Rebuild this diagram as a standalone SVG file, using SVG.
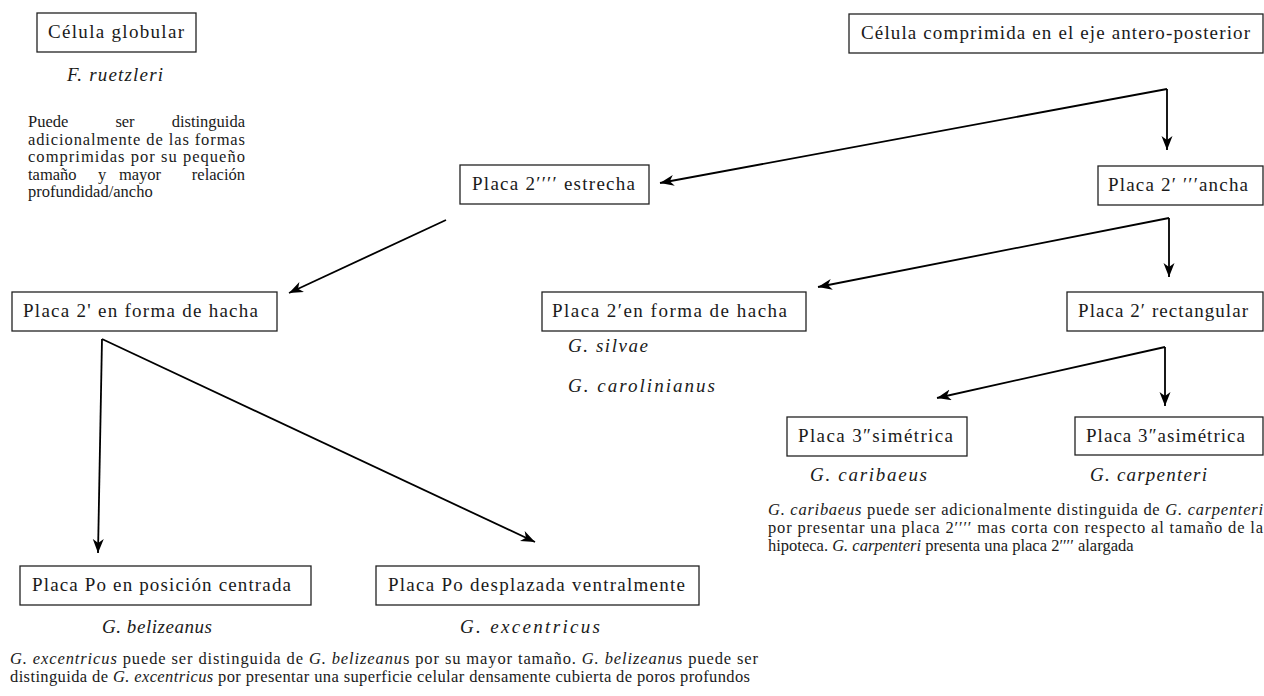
<svg xmlns="http://www.w3.org/2000/svg" width="1264" height="696" viewBox="0 0 1264 696">
<style>
text{font-family:"Liberation Serif","DejaVu Serif",serif;fill:#1a1a1a}
.b{font-size:19px}
.sp{font-size:19px;font-style:italic}
.p{font-size:16.5px}
.i{font-style:italic}
.box{fill:#fff;stroke:#222;stroke-width:1.3}
.c{fill:none;stroke:#000;stroke-width:1.8;marker-end:url(#ah)}
</style>
<defs>
<marker id="ah" markerUnits="userSpaceOnUse" markerWidth="16" markerHeight="12" refX="14" refY="5.5" orient="auto">
<path d="M0,0 L14,5.5 L0,11 L4,5.5 Z" fill="#000"/>
</marker>
</defs>
<rect width="1264" height="696" fill="#fff"/>
<g id="connectors">
<path class="c" d="M1167,89 L660,183"/>
<path class="c" d="M1167,89 L1167,150"/>
<path class="c" d="M446,220 L289,293"/>
<path class="c" d="M1169,218 L818,287"/>
<path class="c" d="M1169,218 L1169,277"/>
<path class="c" d="M1165,347 L937,398"/>
<path class="c" d="M1165,347 L1165,406"/>
<path class="c" d="M102,339 L98,553"/>
<path class="c" d="M102,339 L535,542"/>
</g>
<g id="n-globular">
<rect class="box" x="37" y="13" width="159" height="39"/>
<text class="b" x="48" y="38" textLength="136">Célula globular</text>
<text class="sp" x="67" y="81" textLength="96">F. ruetzleri</text>
<text class="p" y="127"><tspan x="28">Puede</tspan><tspan x="125" text-anchor="middle">ser</tspan><tspan x="245" text-anchor="end">distinguida</tspan></text>
<text class="p" x="28" y="145" textLength="217">adicionalmente de las formas</text>
<text class="p" x="28" y="162" textLength="217">comprimidas por su pequeño</text>
<text class="p" y="180"><tspan x="28">tamaño</tspan><tspan x="102" text-anchor="middle">y</tspan><tspan x="140" text-anchor="middle">mayor</tspan><tspan x="245" text-anchor="end">relación</tspan></text>
<text class="p" x="28" y="197">profundidad/ancho</text>
</g>
<g id="n-comprimida">
<rect class="box" x="849" y="14" width="414" height="39"/>
<text class="b" x="861" y="39" textLength="389">Célula comprimida en el eje antero-posterior</text>
</g>
<g id="n-estrecha">
<rect class="box" x="460" y="165" width="189" height="39"/>
<text class="b" x="472" y="190" textLength="163">Placa 2′′′′ estrecha</text>
</g>
<g id="n-ancha">
<rect class="box" x="1098" y="166" width="165" height="39"/>
<text class="b" x="1108" y="191" textLength="140">Placa 2′ ′′′ancha</text>
</g>
<g id="n-hacha-left">
<rect class="box" x="12" y="292" width="265" height="39"/>
<text class="b" x="23" y="317" textLength="235">Placa 2' en forma de hacha</text>
</g>
<g id="n-hacha-mid">
<rect class="box" x="542" y="292" width="264" height="39"/>
<text class="b" x="552" y="317" textLength="235">Placa 2′en forma de hacha</text>
<text class="sp" x="568" y="352" textLength="80">G. silvae</text>
<text class="sp" x="568" y="392" textLength="147">G. carolinianus</text>
</g>
<g id="n-rectangular">
<rect class="box" x="1067" y="292" width="196" height="39"/>
<text class="b" x="1078" y="317" textLength="170">Placa 2′ rectangular</text>
</g>
<g id="n-simetrica">
<rect class="box" x="787" y="417" width="180" height="39"/>
<text class="b" x="798" y="442" textLength="155">Placa 3″simétrica</text>
<text class="sp" x="810" y="481" textLength="117">G. caribaeus</text>
</g>
<g id="n-asimetrica">
<rect class="box" x="1075" y="417" width="188" height="38"/>
<text class="b" x="1086" y="442" textLength="159">Placa 3″asimétrica</text>
<text class="sp" x="1090" y="481" textLength="117">G. carpenteri</text>
</g>
<g id="note-right">
<text class="p" x="768" y="515" textLength="495"><tspan class="i">G. caribaeus</tspan> puede ser adicionalmente distinguida de <tspan class="i">G. carpenteri</tspan></text>
<text class="p" x="768" y="533" textLength="495">por presentar una placa 2′′′′ mas corta con respecto al tamaño de la</text>
<text class="p" x="768" y="551">hipoteca. <tspan class="i">G. carpenteri</tspan> presenta una placa 2′′′′ alargada</text>
</g>
<g id="n-centrada">
<rect class="box" x="20" y="566" width="291" height="39"/>
<text class="b" x="32" y="591" textLength="259">Placa Po en posición centrada</text>
<text class="sp" x="102" y="633" textLength="110">G. belizeanus</text>
</g>
<g id="n-desplazada">
<rect class="box" x="376" y="566" width="323" height="39"/>
<text class="b" x="388" y="591" textLength="297">Placa Po desplazada ventralmente</text>
<text class="sp" x="460" y="633" textLength="140">G. excentricus</text>
</g>
<g id="note-bottom">
<text class="p" x="10" y="664" textLength="748"><tspan class="i">G. excentricus</tspan> puede ser distinguida de <tspan class="i">G. belizeanu</tspan>s por su mayor tamaño. <tspan class="i">G. belizeanu</tspan>s puede ser</text>
<text class="p" x="10" y="682" textLength="740">distinguida de <tspan class="i">G. excentricus</tspan> por presentar una superficie celular densamente cubierta de poros profundos</text>
</g>
</svg>
